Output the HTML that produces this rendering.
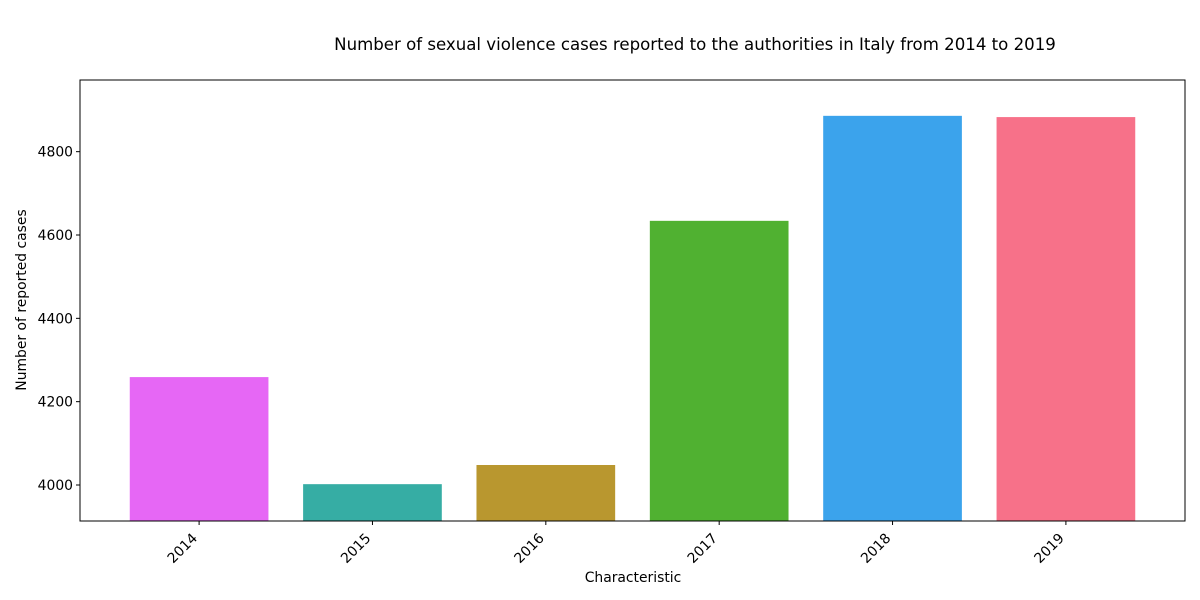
<!DOCTYPE html>
<html><head><meta charset="utf-8">
<style>
html,body{margin:0;padding:0;background:#fff;}
svg{display:block;font-family:"DejaVu Sans","Liberation Sans",sans-serif;}
</style></head>
<body>
<svg id="chart" width="1200" height="600">
<text x="695" y="50" font-size="16.6" text-anchor="middle">Number of sexual violence cases reported to the authorities in Italy from 2014 to 2019</text>
<g id="bars"></g>
<g id="yticks"></g>
<g id="xticks"></g>
<rect x="80" y="80" width="1105" height="441" fill="none" stroke="#000" stroke-width="1"/>
<text x="633" y="582" font-size="13.9" text-anchor="middle">Characteristic</text>
<text transform="translate(26,300) rotate(-90)" font-size="13.9" text-anchor="middle">Number of reported cases</text>
</svg>
<script>
const categories = ["2014","2015","2016","2017","2018","2019"];
const values = [4259, 4002, 4048, 4634, 4886, 4883];
const colors = ["#e667f5","#36ada4","#b9972f","#50b131","#3ba3ec","#f77189"];
const yTickValues = [4000, 4200, 4400, 4600, 4800];

const L=80,R=1185,T=80,B=521;
const yMin=3913.6,yMax=4972;
const xMin=-0.687,xMax=categories.length-1+0.687;
const y=v=>B-(v-yMin)/(yMax-yMin)*(B-T);
const x=i=>L+(i-xMin)/(xMax-xMin)*(R-L);
const bw=0.8*(R-L)/(xMax-xMin);
const NS="http://www.w3.org/2000/svg";
const bars=document.getElementById('bars'),yt=document.getElementById('yticks'),xt=document.getElementById('xticks');
categories.forEach((c,i)=>{
  const r=document.createElementNS(NS,'rect');
  r.setAttribute('x',x(i)-bw/2);r.setAttribute('width',bw);
  r.setAttribute('y',y(values[i]));r.setAttribute('height',B-y(values[i]));
  r.setAttribute('fill',colors[i]);
  
  
  bars.appendChild(r);
  const l=document.createElementNS(NS,'line');
  l.setAttribute('x1',x(i));l.setAttribute('x2',x(i));l.setAttribute('y1',B);l.setAttribute('y2',B+4);l.setAttribute('stroke','#000');
  
  
  xt.appendChild(l);
  const t=document.createElementNS(NS,'text');
  t.setAttribute('transform',`translate(${x(i)-1},${B+18}) rotate(-45)`);
  t.setAttribute('text-anchor','end');t.setAttribute('font-size','13.9');
  t.textContent=c;
  
  
  xt.appendChild(t);
});
yTickValues.forEach(v=>{
  const l=document.createElementNS(NS,'line');
  l.setAttribute('x1',L-4);l.setAttribute('x2',L);l.setAttribute('y1',y(v));l.setAttribute('y2',y(v));l.setAttribute('stroke','#000');
  
  
  yt.appendChild(l);
  const t=document.createElementNS(NS,'text');
  t.setAttribute('x',L-7);t.setAttribute('y',y(v)+5);t.setAttribute('text-anchor','end');t.setAttribute('font-size','13.9');
  t.textContent=v;
  
  
  yt.appendChild(t);
});
</script>
</body></html>
